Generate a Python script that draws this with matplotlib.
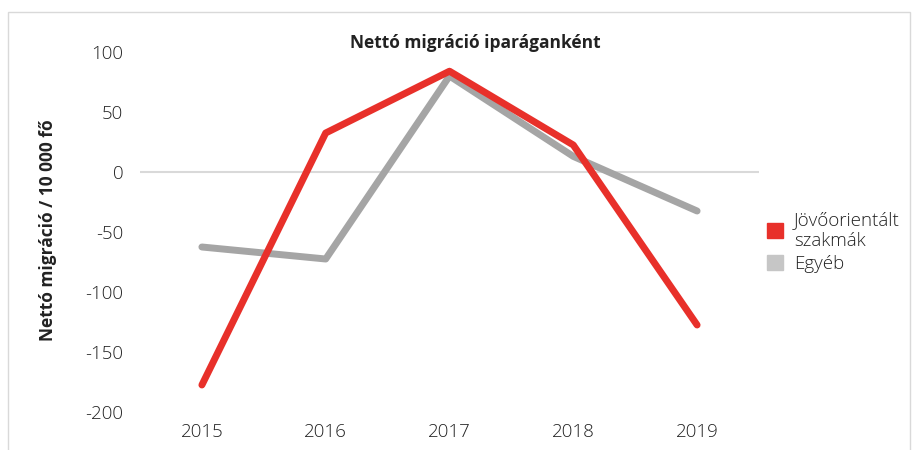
import matplotlib.pyplot as plt
import matplotlib.patches as mpatches

years = ["2015", "2016", "2017", "2018", "2019"]
jovo = [-177.5, 32.5, 84, 22.5, -127.5]
egyeb = [-62.5, -72.5, 80, 13, -32.5]
y_ticks = [100, 50, 0, -50, -100, -150, -200]

RED = "#E8302A"
GREY = "#A5A5A5"

plt.rcParams["font.family"] = ["Open Sans", "DejaVu Sans"]

W, H = 919, 450
fig = plt.figure(figsize=(W / 100, H / 100), dpi=100)
ax = fig.add_axes([140 / W, (H - 412) / H, (759 - 140) / W, (412 - 52) / H])

# light border round the chart area
fig.patches.append(mpatches.Rectangle((8 / W, -0.05), (910 - 8) / W, (H - 12) / H + 0.05,
                                      transform=fig.transFigure, fill=False,
                                      edgecolor="#D9D9D9", linewidth=1))

x = range(len(years))
ax.axhline(0, color="#D9D9D9", linewidth=1.5, zorder=1)
ax.plot(x, jovo, color=RED, linewidth=5, solid_capstyle="round",
        solid_joinstyle="round", zorder=3)
ax.plot(x, egyeb, color=GREY, linewidth=5, solid_capstyle="round",
        solid_joinstyle="round", zorder=2)

ax.set_xlim(-0.5, len(years) - 0.5)
ax.set_ylim(-200, 100)
ax.set_xticks(list(x))
ax.set_xticklabels(years)
ax.set_yticks(y_ticks)
ax.set_yticklabels([str(v) for v in y_ticks])
ax.tick_params(length=0, labelsize=13.5, colors="#222222")
ax.tick_params(axis="y", pad=12)
ax.tick_params(axis="x", pad=8)
for lbl in ax.get_xticklabels() + ax.get_yticklabels():
    lbl.set_fontweight("light")
for s in ax.spines.values():
    s.set_visible(False)

fig.text(475 / W, 1 - 43 / H, "Nettó migráció iparáganként", ha="center",
         va="center", fontsize=12.5, fontweight="bold", color="#222222")
fig.text(48 / W, 1 - 230 / H, "Nettó migráció / 10 000 fő", ha="center",
         va="center", rotation=90, fontsize=12.5, fontweight="bold",
         color="#222222")

handles = [mpatches.Patch(color=RED, label="Jövőorientált\nszakmák"),
           mpatches.Patch(color="#C6C6C6", label="Egyéb")]
leg = fig.legend(handles=handles, loc="upper left",
                 bbox_to_anchor=(750 / W, 1 - 194 / H),
                 frameon=False, fontsize=13.5, handlelength=0.85, handleheight=0.85,
                 handletextpad=0.6, labelspacing=0.3, labelcolor="#222222")
for t in leg.get_texts():
    t.set_fontweight("light")

fig.savefig("out.png", dpi=100)
